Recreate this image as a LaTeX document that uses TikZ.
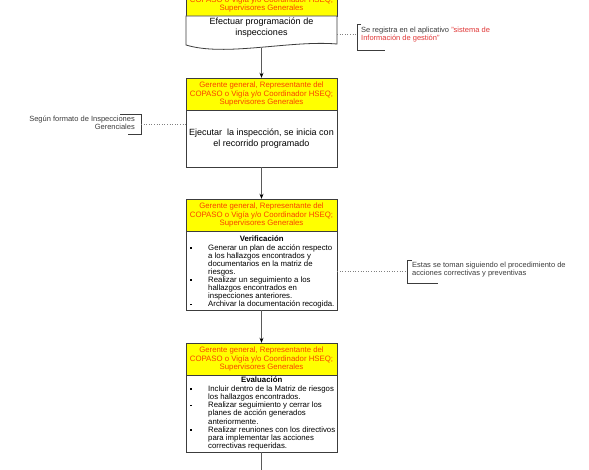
\documentclass[tikz,border=0pt]{standalone}
\usepackage{fontspec}
\setmainfont{Liberation Sans}
\usetikzlibrary{arrows.meta}
\definecolor{hdryellow}{RGB}{255,255,0}
\definecolor{hdrred}{RGB}{250,65,0}
\definecolor{edge}{RGB}{60,60,60}
\definecolor{flowgray}{RGB}{90,90,90}
\definecolor{notegray}{RGB}{60,60,60}
\definecolor{notered}{RGB}{225,55,55}
\newcommand{\lstbul}{\makebox[19pt][l]{\hspace{1pt}\rule[1.6pt]{1.6pt}{1.6pt}}}
\newcommand{\lstind}{\hspace*{19pt}}

\begin{document}
\begin{tikzpicture}[x=1pt, y=-1pt,
  hdr/.style={draw=edge, fill=hdryellow, text=hdrred, minimum width=151pt, minimum height=32pt,
    inner sep=0pt, align=center, font=\fontsize{7.8}{8.6}\selectfont},
  body/.style={draw=edge, fill=white, minimum width=151pt, inner sep=0pt, align=center,
    font=\fontsize{9}{11}\selectfont},
  lst/.style={anchor=north west, align=left, inner sep=0pt, font=\fontsize{7.8}{8.1}\selectfont},
  note/.style={inner sep=0pt, text=notegray, font=\fontsize{7.5}{8}\selectfont},
  flow/.style={draw=flowgray, line width=0.8pt, -{Stealth[length=5pt,width=4pt,black]}},
  link/.style={draw=gray, dotted, line width=0.6pt},
  brace/.style={draw=edge, line width=0.8pt}]
  \clip (0,0) rectangle (589,470);
  \fill[white] (0,0) rectangle (589,470);

  % step 1: programacion
  \node[hdr] (hdr1) at (261.5,0) {Gerente general, Representante del\\COPASO o Vigía y/o Coordinador HSEQ;\\Supervisores Generales};
  \draw[edge, fill=white, line width=0.8pt] (186,16) -- (186,45) .. controls (225,57) and (290,40) .. (337,44) -- (337,16) -- cycle;
  \node[body, draw=none, fill=none] (doc1) at (261.5,28) {Efectuar programación de\\inspecciones};
  \coordinate (doc1s) at (261.5,48);
  \coordinate (doc1e) at (337,34);

  % step 2: ejecucion
  \node[hdr] (hdr2) at (261.5,94) {Gerente general, Representante del\\COPASO o Vigía y/o Coordinador HSEQ;\\Supervisores Generales};
  \node[body, minimum height=57pt] (box2) at (261.5,138.5) {Ejecutar\ \ la inspección, se inicia con\\el recorrido programado};

  % step 3: verificacion
  \node[hdr] (hdr3) at (261.5,215) {Gerente general, Representante del\\COPASO o Vigía y/o Coordinador HSEQ;\\Supervisores Generales};
  \node[body, minimum height=79pt] (box3) at (261.5,270.5) {};
  \node[lst] (list3) at (189,234) {\rule{0pt}{7pt}\makebox[145pt]{\bfseries Verificación}\\[0.8pt]
    \lstbul Generar un plan de acción respecto\\
    \lstind a los hallazgos encontrados y\\
    \lstind documentarios en la matriz de\\
    \lstind riesgos.\\
    \lstbul Realizar un seguimiento a los\\
    \lstind hallazgos encontrados en\\
    \lstind inspecciones anteriores.\\
    \lstbul Archivar la documentación recogida.};

  % step 4: evaluacion
  \node[hdr] (hdr4) at (261.5,359) {Gerente general, Representante del\\COPASO o Vigía y/o Coordinador HSEQ;\\Supervisores Generales};
  \node[body, minimum height=77pt] (box4) at (261.5,413.5) {};
  \node[lst] (list4) at (189,375.5) {\rule{0pt}{7pt}\makebox[145pt]{\bfseries Evaluación}\\[0.8pt]
    \lstbul Incluir dentro de la Matriz de riesgos\\
    \lstind los hallazgos encontrados.\\
    \lstbul Realizar seguimiento y cerrar los\\
    \lstind planes de acción generados\\
    \lstind anteriormente.\\
    \lstbul Realizar reuniones con los directivos\\
    \lstind para implementar las acciones\\
    \lstind correctivas requeridas.};
  \coordinate (next) at (261.5,475);

  % flow
  \draw[flow] (doc1s) -- (hdr2.north);
  \draw[flow] (box2.south) -- (hdr3.north);
  \draw[flow] (box3.south) -- (hdr4.north);
  \draw[draw=flowgray, line width=0.8pt] (box4.south) -- (next);

  % annotations
  \node[note, anchor=west, align=left] (note1) at (361,35) {Se registra en el aplicativo \textcolor{notered}{"sistema de}\\\textcolor{notered}{Información de gestión"}};
  \draw[brace] (361,24) -- (357,24) -- (357,50) -- (385,50);
  \coordinate (brk1) at (357,34);
  \draw[link] (doc1e) -- (brk1);

  \node[note, anchor=east, align=right] (note2) at (135,123) {Según formato de Inspecciones\\Gerenciales};
  \draw[brace] (120,114) -- (141,114) -- (141,134) -- (128,134);
  \coordinate (brk2) at (141,124);
  \draw[link] (brk2) -- (box2.west |- brk2);

  \node[note, anchor=west, align=left] (note3) at (412,270) {Estas se toman siguiendo el procedimiento de\\acciones correctivas y preventivas};
  \draw[brace] (412,260) -- (407,260) -- (407,283) -- (438,283);
  \coordinate (brk3) at (407,271);
  \draw[link] (box3.east |- brk3) -- (brk3);
\end{tikzpicture}
\end{document}
